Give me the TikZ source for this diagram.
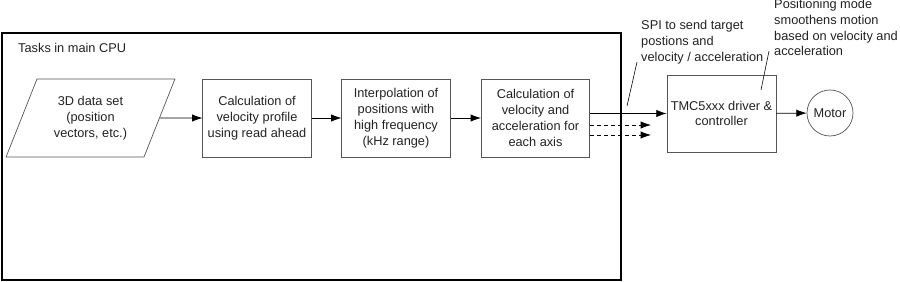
\documentclass[tikz,border=0pt]{standalone}
\usepackage{fontspec}
\setmainfont{Liberation Sans}
\usetikzlibrary{arrows.meta,positioning,calc,shapes.geometric}
\definecolor{boxGray}{HTML}{555555}
\definecolor{txtGray}{HTML}{222222}

\begin{document}
\begin{tikzpicture}[x=0.03cm,y=-0.03cm,
  font=\fontsize{10.9}{13.5}\selectfont,text=txtGray,
  task/.style={draw=boxGray,line width=0.6pt,align=center,minimum width=3.25cm,minimum height=2.34cm,inner sep=2pt},
  data/.style={task,trapezium,trapezium left angle=65,trapezium right angle=115,trapezium stretches=true,minimum width=5.07cm},
  motor/.style={draw=boxGray,line width=0.6pt,circle,minimum size=1.38cm,inner sep=0pt},
  note/.style={align=left,anchor=north west,inner sep=0pt},
  flow/.style={-{Latex[length=3.1mm,width=2.2mm]},line width=0.6pt},
  lead/.style={line width=0.5pt}]
  \useasboundingbox (0,0) rectangle (900,282);
  % main CPU frame
  \draw[line width=1.1pt] (2,33) rectangle (621,280);
  \node[note,anchor=west] (cpu) at (18,48) {Tasks in main CPU};
  % processing chain
  \node[data] (dset) at (90.5,118) {3D data set\\(position\\vectors, etc.)};
  \node[task] (prof) at (257,118) {Calculation of\\velocity profile\\using read ahead};
  \node[task] (intp) at (396,118) {Interpolation of\\positions with\\high frequency\\(kHz range)};
  \node[task] (axis) at (535.5,118) {Calculation of\\velocity and\\acceleration for\\each axis};
  \node[task,minimum width=3.27cm,minimum height=2.31cm] (tmc) at (721.5,113.5) {TMC5xxx driver \&\\controller};
  \node[motor] (mot) at (830,113) {Motor};
  \draw[flow] (dset.east) -- (prof.west);
  \draw[flow] (prof) -- (intp);
  \draw[flow] (intp) -- (axis);
  \draw[flow] (axis.east|-tmc.west) -- (tmc.west);
  \coordinate (d1) at (651,125);
  \coordinate (d2) at (651,135);
  \draw[flow,dashed] (axis.east|-d1) -- (d1);
  \draw[flow,dashed] (axis.east|-d2) -- (d2);
  \draw[flow] (tmc) -- (mot);
  % notes
  \node[note] (spi) at (641,20) {SPI to send target\\postions and\\velocity / acceleration};
  \coordinate (spiA) at (627,106);
  \coordinate (spiB) at (637,62);
  \draw[lead] (spiA) -- (spiB);
  \node[note] (pos) at (774,-1) {Positioning mode\\smoothens motion\\based on velocity and\\acceleration};
  \coordinate (posA) at (761,90);
  \coordinate (posB) at (769,51);
  \draw[lead] (posA) -- (posB);
\end{tikzpicture}
\end{document}
